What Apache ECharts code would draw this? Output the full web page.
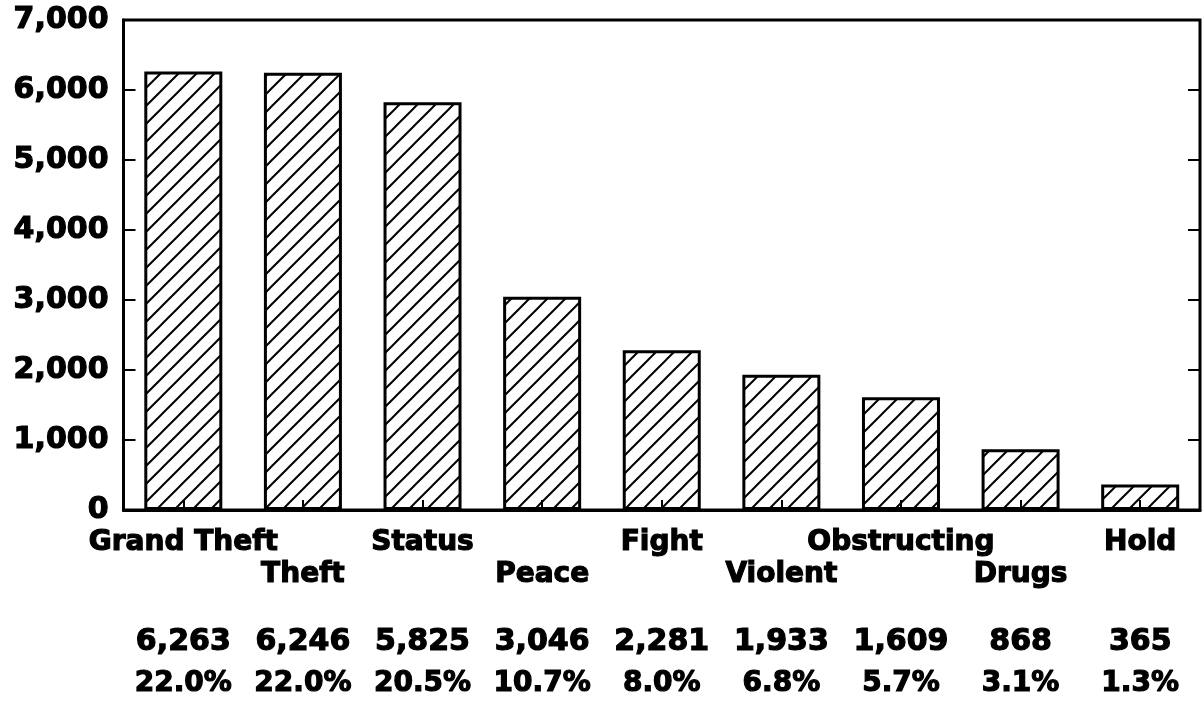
<!DOCTYPE html>
<html>
<head>
<meta charset="utf-8">
<script src="https://cdn.jsdelivr.net/npm/echarts@6/dist/echarts.min.js"></script>
<style>
  html, body { margin: 0; padding: 0; background: #fff; }
  #chart { width: 1202px; height: 715px; }
</style>
</head>
<body>
<div id="chart"></div>
<script>
const categories = ["Grand Theft", "Theft", "Status", "Peace", "Fight", "Violent", "Obstructing", "Drugs", "Hold"];
const counts = [6263, 6246, 5825, 3046, 2281, 1933, 1609, 868, 365];
const percents = ["22.0%", "22.0%", "20.5%", "10.7%", "8.0%", "6.8%", "5.7%", "3.1%", "1.3%"];
const yTicks = [0, 1000, 2000, 3000, 4000, 5000, 6000, 7000];

const FONT = "DejaVu Sans";
// thicken the glyphs a bit, the original type is very heavy
const heavy = { textBorderColor: "#000", textBorderWidth: 1.2 };

// diagonal hatch tile
function hatchTile() {
  const s = 18;
  const c = document.createElement("canvas");
  c.width = s;
  c.height = s;
  const ctx = c.getContext("2d");
  ctx.fillStyle = "#fff";
  ctx.fillRect(0, 0, s, s);
  ctx.strokeStyle = "#000";
  ctx.lineWidth = 2;
  ctx.beginPath();
  ctx.moveTo(-2, s + 2);
  ctx.lineTo(s + 2, -2);
  ctx.moveTo(-2, 2);
  ctx.lineTo(2, -2);
  ctx.moveTo(s - 2, s + 2);
  ctx.lineTo(s + 2, s - 2);
  ctx.stroke();
  return c;
}

const fmt = (n) => n.toLocaleString("en-US");

const chart = echarts.init(document.getElementById("chart"), null, { renderer: "canvas" });

const option = {
  backgroundColor: "#fff",
  animation: false,
  grid: {
    left: 123.5,
    right: 2,
    top: 20,
    bottom: 205,
    show: true,
    borderColor: "#000",
    borderWidth: 3,
    backgroundColor: "transparent"
  },
  xAxis: [
    {
      type: "category",
      data: categories,
      position: "bottom",
      z: 5,
      axisLine: { show: true, lineStyle: { color: "#000", width: 3 } },
      axisTick: { show: true, inside: true, alignWithLabel: true, length: 10, lineStyle: { color: "#000", width: 2 } },
      axisLabel: Object.assign({
        interval: 0,
        margin: 17,
        color: "#000",
        fontFamily: FONT,
        fontWeight: "bold",
        fontSize: 28,
        lineHeight: 32,
        formatter: (v, i) => (i % 2 === 1 ? "\n" + v : v)
      }, heavy)
    },
    {
      type: "category",
      data: categories,
      position: "bottom",
      offset: 100,
      axisLine: { show: false },
      axisTick: { show: false },
      axisLabel: {
        interval: 0,
        margin: 12,
        color: "#000",
        fontFamily: FONT,
        fontWeight: "bold",
        formatter: (v, i) => "{v|" + fmt(counts[i]) + "}\n{p|" + percents[i] + "}",
        rich: {
          v: Object.assign({ fontFamily: FONT, fontWeight: "bold", fontSize: 30, lineHeight: 41, color: "#000" }, heavy),
          p: Object.assign({ fontFamily: FONT, fontWeight: "bold", fontSize: 28, lineHeight: 41, color: "#000" }, heavy)
        }
      }
    }
  ],
  yAxis: [
    {
      type: "value",
      position: "left",
      min: yTicks[0],
      max: yTicks[yTicks.length - 1],
      interval: 1000,
      splitLine: { show: false },
      axisLine: { show: true, lineStyle: { color: "#000", width: 3 } },
      axisTick: { show: true, inside: true, length: 12, lineStyle: { color: "#000", width: 2 } },
      axisLabel: Object.assign({
        margin: 15,
        color: "#000",
        fontFamily: FONT,
        fontWeight: "bold",
        fontSize: 30,
        formatter: (v) => fmt(v)
      }, heavy)
    },
    {
      type: "value",
      position: "right",
      min: yTicks[0],
      max: yTicks[yTicks.length - 1],
      interval: 1000,
      splitLine: { show: false },
      axisLine: { show: true, lineStyle: { color: "#000", width: 2 } },
      axisTick: { show: true, inside: true, length: 12, lineStyle: { color: "#000", width: 2 } },
      axisLabel: { show: false }
    }
  ],
  series: [
    {
      type: "bar",
      data: counts,
      barWidth: 78,
      itemStyle: {
        color: { image: hatchTile(), repeat: "repeat" },
        borderColor: "#000",
        borderWidth: 3
      }
    }
  ]
};

chart.setOption(option);
</script>
</body>
</html>
